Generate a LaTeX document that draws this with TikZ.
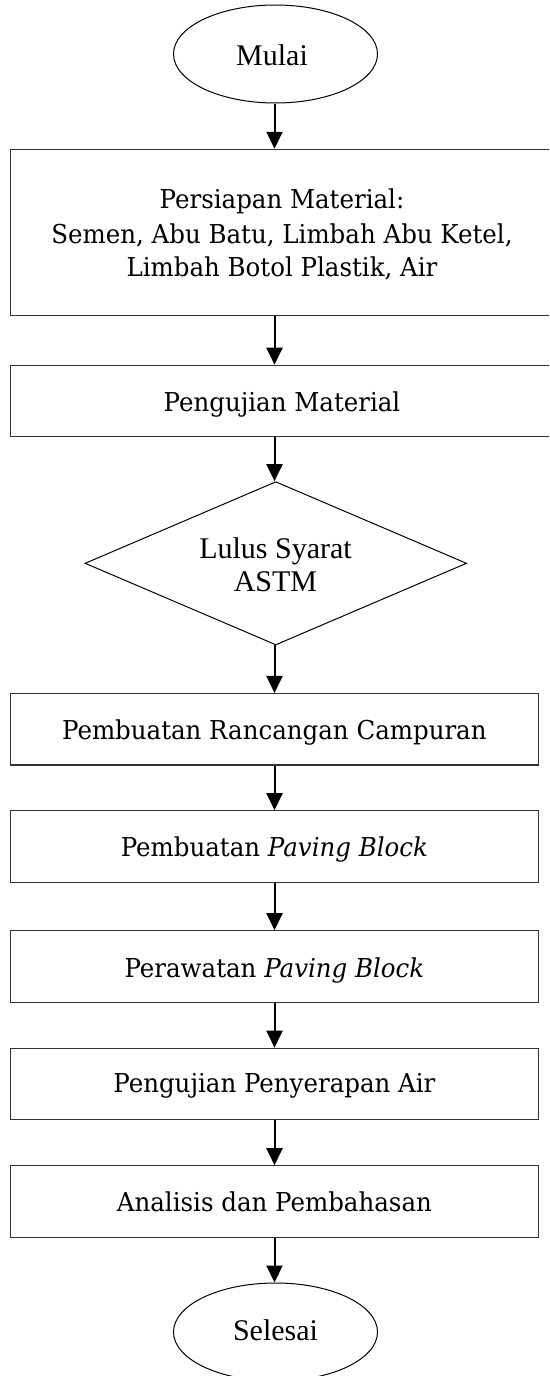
\documentclass[tikz,border=0pt]{standalone}
\usepackage{fontspec}
\usetikzlibrary{arrows.meta,shapes.geometric}
\newfontfamily\camfont[FakeStretch=0.942]{DejaVu Serif}
\newfontfamily\tnrfont{Liberation Serif}
\begin{document}
\begin{tikzpicture}[x=1pt,y=-1pt,
  boxst/.style={draw=black!80,line width=1.1pt,rectangle,inner sep=0pt,minimum height=71.5pt},
  ovalst/.style={draw=black,line width=1pt,ellipse,inner sep=0pt,minimum width=204pt,minimum height=98pt},
  decst/.style={draw=black,line width=1pt,diamond,inner sep=0pt,minimum width=381.7pt,minimum height=163.3pt},
  camtxt/.style={anchor=base,inner sep=0pt,font=\camfont\fontsize{26pt}{31pt}\selectfont},
  tnrtxt/.style={anchor=base,inner sep=0pt,font=\tnrfont\fontsize{30pt}{36pt}\selectfont},
  arr/.style={draw=black,line width=2pt,-{Triangle[width=16pt,length=17pt]}}]
\clip (0,0) rectangle (549,1376);
\fill[white] (0,0) rectangle (549,1376);
% shapes
\node[ovalst] (m) at (275.5,54) {};
\node[boxst,minimum width=542pt,minimum height=166pt] (b1) at (281.7,232.3) {};
\node[boxst,minimum width=542pt] (b2) at (281.7,401) {};
\node[decst] (d) at (275.8,563.3) {};
\node[boxst,minimum width=527.3pt] (b3) at (274.4,729.25) {};
\node[boxst,minimum width=527.3pt] (b4) at (274.4,846.5) {};
\node[boxst,minimum width=527.3pt] (b5) at (274.4,966.5) {};
\node[boxst,minimum width=527.3pt] (b6) at (274.4,1084) {};
\node[boxst,minimum width=527.3pt] (b7) at (274.4,1201.5) {};
\node[ovalst] (s) at (275.5,1332) {};
% texts
\node[tnrtxt] (tm) at (272,65) {Mulai};
\node[camtxt] (t1a) at (282,208) {Persiapan Material:};
\node[camtxt] (t1b) at (282,243) {Semen, Abu Batu, Limbah Abu Ketel,};
\node[camtxt] (t1c) at (282,276.5) {Limbah Botol Plastik, Air};
\node[camtxt] (t2) at (282,411.7) {Pengujian Material};
\node[tnrtxt] (tda) at (275.5,558) {Lulus Syarat};
\node[tnrtxt] (tdb) at (275.5,591.7) {ASTM};
\node[camtxt] (t3) at (274.4,739.3) {Pembuatan Rancangan Campuran};
\node[camtxt] (t4) at (274.4,856.7) {Pembuatan \textit{Paving Block}};
\node[camtxt] (t5) at (274.4,977) {Perawatan \textit{Paving Block}};
\node[camtxt] (t6) at (274.4,1092.7) {Pengujian Penyerapan Air};
\node[camtxt] (t7) at (274.4,1211) {Analisis dan Pembahasan};
\node[tnrtxt] (ts) at (275.5,1340) {Selesai};
% connectors
\coordinate (ax) at (274.5,0);
\draw[arr] (ax |- m.south) -- (ax |- b1.north);
\draw[arr] (ax |- b1.south) -- (ax |- b2.north);
\draw[arr] (ax |- b2.south) -- (ax |- d.north);
\draw[arr] (ax |- d.south) -- (ax |- b3.north);
\draw[arr] (ax |- b3.south) -- (ax |- b4.north);
\draw[arr] (ax |- b4.south) -- (ax |- b5.north);
\draw[arr] (ax |- b5.south) -- (ax |- b6.north);
\draw[arr] (ax |- b6.south) -- (ax |- b7.north);
\draw[arr] (ax |- b7.south) -- (ax |- s.north);
\end{tikzpicture}
\end{document}
